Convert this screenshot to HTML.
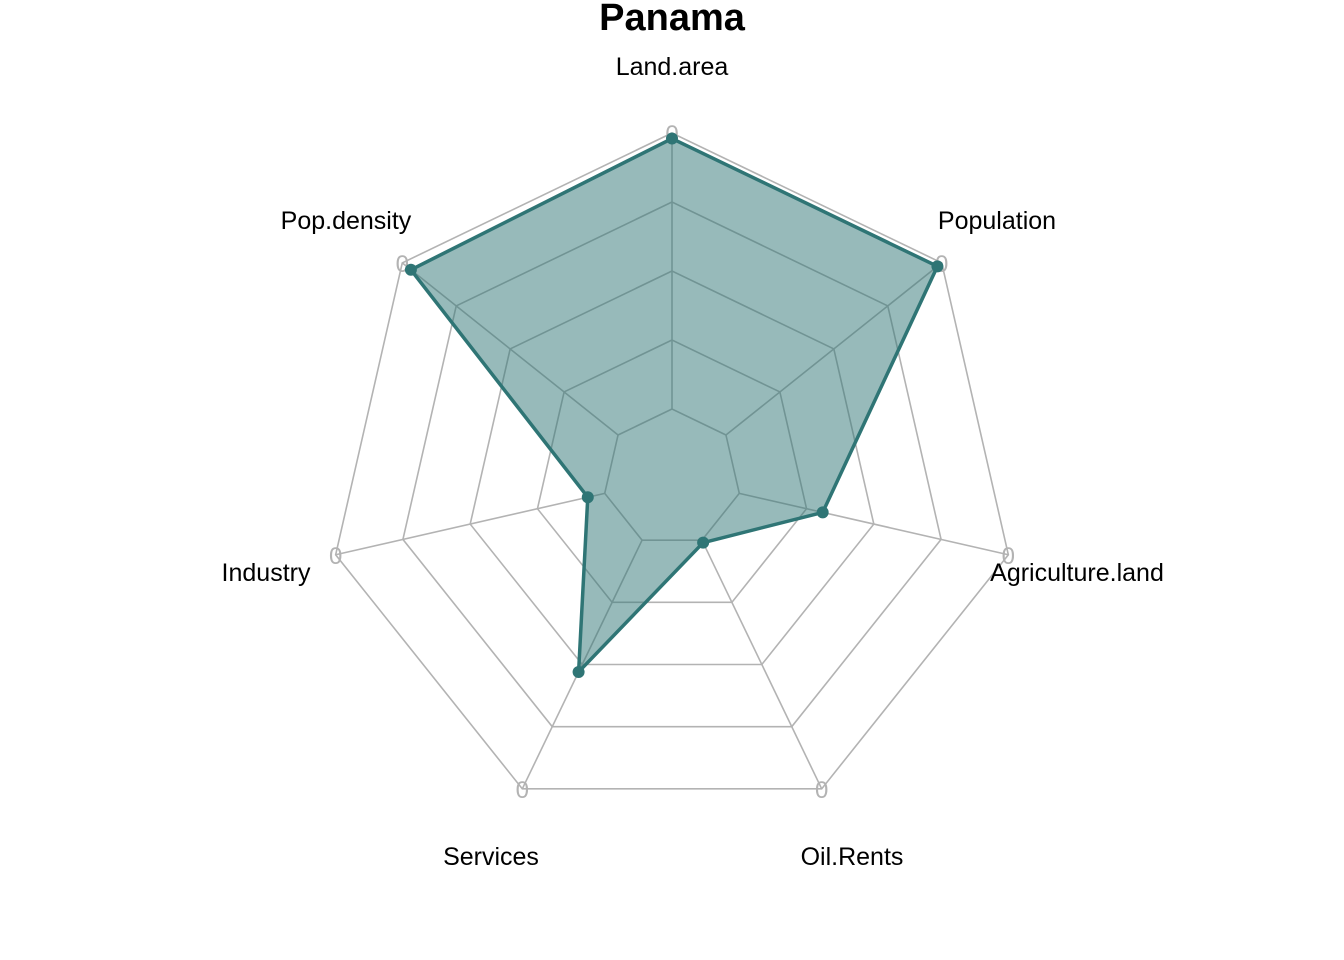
<!DOCTYPE html>
<html><head><meta charset="utf-8"><style>
html,body{margin:0;padding:0;background:#fff;}
svg{display:block;font-family:"Liberation Sans",Arial,sans-serif;}
</style></head><body>
<svg id="chart" width="1344" height="960" viewBox="0 0 1344 960" xmlns="http://www.w3.org/2000/svg">
<text x="672" y="30" text-anchor="middle" font-size="38" font-weight="bold">Panama</text>
<g id="grid"></g><g id="series"></g><g id="labels"></g>
</svg>
<script>
const axes = ["Land.area","Pop.density","Industry","Services","Oil.Rents","Agriculture.land","Population"];
const values = [0.98,0.96,0.063,0.53,0.01,0.31,0.98];
const labelPos = [[672,74],[346,228],[266,580],[491,864],[852,864],[1077,580],[997,228]];
const cx=672, cy=478, R=345, seg=4;
const NS="http://www.w3.org/2000/svg";
function ang(i){return Math.PI/2 + i*2*Math.PI/axes.length;}
function pt(i,f){return [cx+R*f*Math.cos(ang(i)), cy-R*f*Math.sin(ang(i))];}
function scale(v){return (1+v*seg)/(seg+1);}
function mk(tag,attrs,parent){const e=document.createElementNS(NS,tag);for(const k in attrs)e.setAttribute(k,attrs[k]);parent.appendChild(e);return e;}
const grid=document.getElementById('grid'), ser=document.getElementById('series'), lab=document.getElementById('labels');
for(let l=1;l<=seg+1;l++){
  const f=l/(seg+1);
  const p=mk('polygon',{points:axes.map((_,i)=>pt(i,f).join(',')).join(' '),fill:'none',stroke:'#b3b3b3','stroke-width':1.6},grid);
  
  
}
axes.forEach((a,i)=>{
  const [x1,y1]=pt(i,1/(seg+1)),[x2,y2]=pt(i,1);
  const ln=mk('line',{x1,y1,x2,y2,stroke:'#b3b3b3','stroke-width':1.6},grid);
  
  
  const t=mk('text',{x:x2,y:y2+9,'text-anchor':'middle','font-size':24,fill:'#b3b3b3'},grid);
  t.textContent='0';
  
  
  const lt=mk('text',{x:labelPos[i][0],y:labelPos[i][1]+1,'text-anchor':'middle','font-size':25,fill:'#000'},lab);
  lt.textContent=a;
  
  
});
const pts=values.map((v,i)=>pt(i,scale(v)));
const poly=mk('polygon',{points:pts.map(p=>p.join(',')).join(' '),fill:'rgba(47,117,117,0.5)',stroke:'#2f7575','stroke-width':3.5,'stroke-linejoin':'round'},ser);


pts.forEach((p,i)=>{
  const c=mk('circle',{cx:p[0],cy:p[1],r:6,fill:'#2f7575'},ser);
  
  
});
</script>
</body></html>
